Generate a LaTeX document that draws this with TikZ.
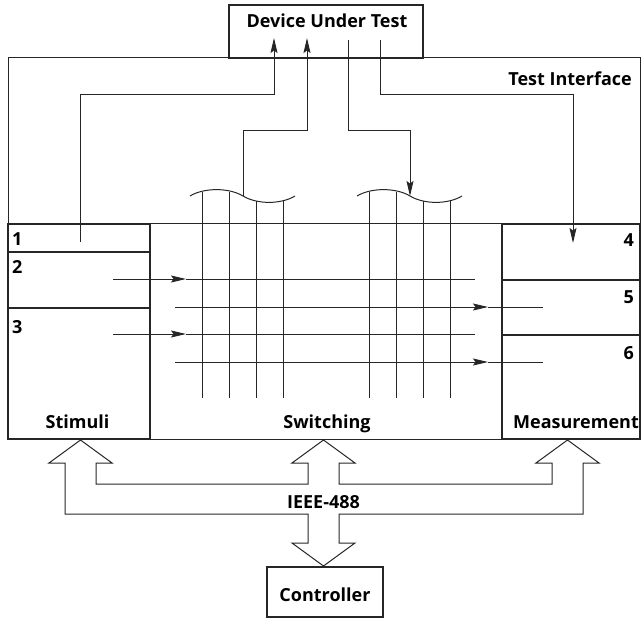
\documentclass[tikz,border=0pt]{standalone}
\usepackage{fontspec}
\setmainfont{Open Sans}
\usetikzlibrary{arrows.meta,positioning,calc}
\newcommand{\lblfont}{\fontsize{18}{20}\selectfont\bfseries}
\colorlet{colorLine}{black!85}
\tikzset{
   box/.style={draw=colorLine,line width=1.2pt,inner sep=0pt},
   frame/.style={draw=colorLine,line width=1pt,inner sep=0pt},
   lbl/.style={font=\lblfont,inner sep=0pt,anchor=base},
   wire/.style={-{Stealth[length=15pt,width=7pt,inset=2.5pt]},color=colorLine,line width=1pt},
   plain/.style={color=colorLine,line width=1pt},
   bus/.style={color=colorLine,line width=1pt,line join=miter},
}

\begin{document}
\begin{tikzpicture}[x=1pt,y=-1pt]
        \useasboundingbox (0,0) rectangle (641,618);

        % boxes
        \node[frame,minimum width=632pt,minimum height=381pt] (iface) at (324,248.5) {};
        \node[box,fill=white,minimum width=194pt,minimum height=53pt] (dut) at (326,31.5) {};
        \node[lbl] (dutlab) at (327,28) {Device Under Test};
        \node[lbl,anchor=base east] (ifacelab) at (632,86) {Test Interface};
        \node[box,minimum width=142pt,minimum height=215pt] (stim) at (79,331.5) {};
        \node[box,minimum width=138pt,minimum height=215pt] (meas) at (571,331.5) {};
        \draw[plain] (stim.north east) -- (meas.north west);

        % rows
        \draw[box] (8,252) -- (150,252);
        \draw[box] (8,308) -- (150,308);
        \draw[box] (502,280) -- (640,280);
        \draw[box] (502,335) -- (640,335);
        \node[lbl,anchor=base west] (n1) at (12,245) {1};
        \node[lbl,anchor=base west] (n2) at (12,273) {2};
        \node[lbl,anchor=base west] (n3) at (12,333) {3};
        \node[lbl,anchor=base east] (n4) at (634,247) {4};
        \node[lbl,anchor=base east] (n5) at (634,303) {5};
        \node[lbl,anchor=base east] (n6) at (634,359) {6};
        \node[lbl] (stimlab) at (77.5,428) {Stimuli};
        \node[lbl] (swlab)   at (327,428) {Switching};
        \node[lbl] (measlab) at (576,428) {Measurement};

        % switching matrix
        \draw[plain] (190,196) .. controls (204,187.5) and (229,187.5) .. (243,196)
                               .. controls (257,204.5) and (281,204.5) .. (295,196);
        \draw[plain] (357,196) .. controls (371,187.5) and (396,187.5) .. (410,196)
                               .. controls (424,204.5) and (448,204.5) .. (462,196);
        \draw[plain] (202,192) -- (202,398);
        \draw[plain] (229,192) -- (229,398);
        \draw[plain] (256,200.5) -- (256,398);
        \draw[plain] (283,200.5) -- (283,398);
        \draw[plain] (369,192) -- (369,398);
        \draw[plain] (396,192) -- (396,398);
        \draw[plain] (423,200.5) -- (423,398);
        \draw[plain] (450,200.5) -- (450,398);

        \draw[wire] (113,279) -- (186,279);
        \draw[plain] (186,279) -- (475,279);
        \draw[wire] (113,334) -- (186,334);
        \draw[plain] (186,334) -- (475,334);
        \draw[wire] (175,307) -- (488,307);
        \draw[plain] (488,307) -- (543,307);
        \draw[wire] (175,362) -- (488,362);
        \draw[plain] (488,362) -- (543,362);

        % wires to and from the device
        \coordinate (p1) at (80,242);
        \coordinate (p4) at (573,243);
        \coordinate (sw1) at (243,196);
        \coordinate (sw2) at (410,196);
        \draw[wire] (p1) -- (80,95) -- (274,95) -- (274,38);
        \draw[wire] (sw1) -- (243,131) -- (307,131) -- (307,38);
        \draw[wire] (348,40) -- (348,131) -- (410,131) -- (sw2);
        \draw[wire] (380,40) -- (380,95) -- (573,95) -- (p4);

        % IEEE-488 bus
        \draw[bus] (80.5,440) -- (112,463) -- (96,463) -- (96,484) -- (308,484) -- (308,463)
              -- (292,463) -- (323.5,440) -- (355,463) -- (339,463) -- (339,484)
              -- (552,484) -- (552,463) -- (536,463) -- (567.5,440) -- (599,463)
              -- (583,463) -- (583,514) -- (339,514) -- (339,543) -- (355,543)
              -- (323.5,566) -- (292,543) -- (308,543) -- (308,514) -- (65,514)
              -- (65,463) -- (49,463) -- cycle;
        \node[lbl] (buslab) at (323.5,508) {IEEE-488};

        \node[box,minimum width=116pt,minimum height=50pt] (ctrl) at (325,592) {};
        \node[lbl] (ctrllab) at (325,601) {Controller};
\end{tikzpicture}
\end{document}
